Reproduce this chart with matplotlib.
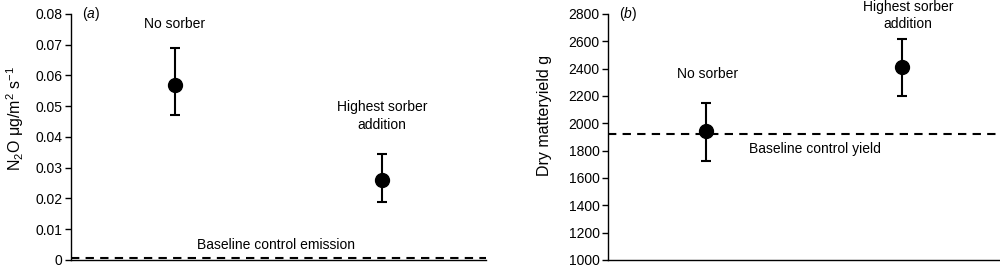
import matplotlib
matplotlib.use("Agg")
import matplotlib.pyplot as plt

plt.rcParams['font.family'] = ['Liberation Sans', 'DejaVu Sans']
plt.rcParams['mathtext.fontset'] = 'custom'
plt.rcParams['mathtext.rm'] = 'Liberation Sans'
plt.rcParams['mathtext.it'] = 'Liberation Sans:italic'
plt.rcParams['mathtext.default'] = 'regular'

categories = ["No sorber", "Highest sorber\naddition"]
n2o_mean = [0.057, 0.026]
n2o_low = [0.047, 0.019]
n2o_high = [0.069, 0.0345]
n2o_baseline = 0.0005

yield_mean = [1945, 2415]
yield_low = [1725, 2200]
yield_high = [2145, 2620]
yield_baseline = 1925

fig = plt.figure(figsize=(10, 2.68), dpi=100)
axa = fig.add_axes([0.071, 0.0299, 0.415, 0.918])
axb = fig.add_axes([0.608, 0.0299, 0.392, 0.918])

fs = 10
lfs = 11.5

def style(ax):
    for s in ['top', 'right']:
        ax.spines[s].set_visible(False)
    ax.spines['left'].set_linewidth(1.0)
    ax.spines['bottom'].set_linewidth(1.0)
    ax.set_xticks([])
    ax.tick_params(axis='y', labelsize=fs, length=4, width=1.0, pad=2)
    ax.set_xlim(-0.5, 1.5)

xs = [0, 1]
# Panel a
axa.errorbar(xs, n2o_mean,
             yerr=[[m - l for m, l in zip(n2o_mean, n2o_low)],
                   [h - m for m, h in zip(n2o_mean, n2o_high)]],
             fmt='o', color='black', markersize=10, capsize=3.6, elinewidth=1.5, capthick=1.5)
axa.axhline(n2o_baseline, color='black', linestyle=(0, (4, 3)), linewidth=1.5)
axa.set_ylim(0, 0.08)
axa.set_yticks([0, 0.01, 0.02, 0.03, 0.04, 0.05, 0.06, 0.07, 0.08])
axa.set_yticklabels(['0', '0.01', '0.02', '0.03', '0.04', '0.05', '0.06', '0.07', '0.08'])
style(axa)
axa.set_ylabel('N$_2$O μg/m$^2$ s$^{-1}$', fontsize=lfs)
axa.yaxis.set_label_coords(-0.108, 0.573)
axa.text(-0.445, 0.08, '($\\mathit{a}$)', fontsize=fs, va='center', ha='left')
axa.text(0, 0.0768, categories[0], fontsize=fs, ha='center', va='center')
axa.text(1, 0.0468, categories[1], fontsize=fs, ha='center', va='center', linespacing=1.3)
axa.text(0.49, 0.0048, 'Baseline control emission', fontsize=fs, ha='center', va='center')

# Panel b
axb.errorbar(xs, yield_mean,
             yerr=[[m - l for m, l in zip(yield_mean, yield_low)],
                   [h - m for m, h in zip(yield_mean, yield_high)]],
             fmt='o', color='black', markersize=10, capsize=3.6, elinewidth=1.5, capthick=1.5)
axb.axhline(yield_baseline, color='black', linestyle=(0, (4, 3)), linewidth=1.5)
axb.set_ylim(1000, 2800)
axb.set_yticks(range(1000, 2801, 200))
style(axb)
axb.set_ylabel('Dry matteryield g', fontsize=lfs)
axb.yaxis.set_label_coords(-0.143, 0.589)
axb.text(-0.445, 2800, '($\\mathit{b}$)', fontsize=fs, va='center', ha='left')
axb.text(0.01, 2360, categories[0], fontsize=fs, ha='center', va='center')
axb.text(1.03, 2789, categories[1], fontsize=fs, ha='center', va='center', linespacing=1.3)
axb.text(0.556, 1813, 'Baseline control yield', fontsize=fs, ha='center', va='center')

fig.savefig('out.png', dpi=100)
